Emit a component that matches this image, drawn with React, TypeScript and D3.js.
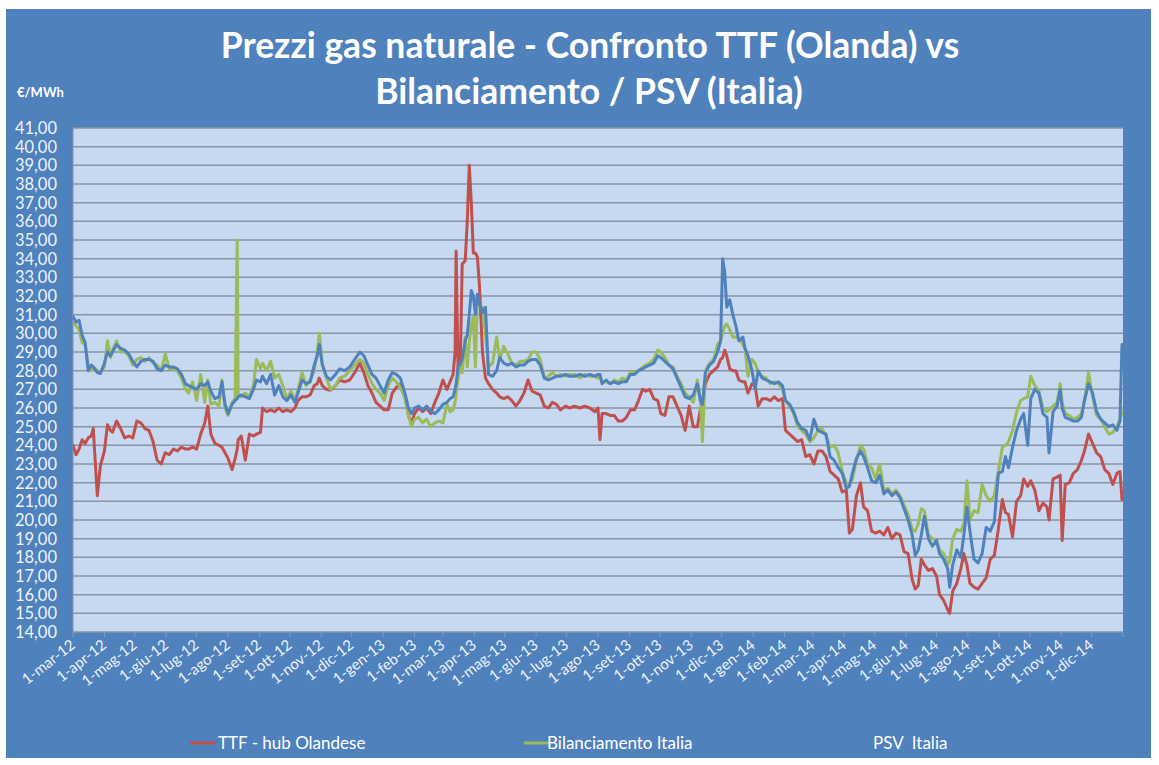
import React from 'react';
import * as d3 from 'd3';

// ---------- DATA ----------
const startDate = new Date(2012, 2, 1); // 1-mar-12
const endDate = new Date(2015, 0, 1);
// days since 1-mar-12
const days = [0,3,6,9,12,15,18,20,24,27,31,34,37,39,43,47,51,55,59,63,67,71,75,79,83,87,91,95,99,103,107,111,114,118,122,126,130,133,136,140,144,147,150,153,157,160,162,163,166,170,174,178,181,185,187,191,195,199,203,207,211,215,219,222,226,230,234,238,241,243,246,250,254,259,263,268,273,278,283,287,291,295,299,303,307,311,315,319,323,327,331,334,337,341,345,349,353,357,361,365,369,372,375,377,378,380,382,384,387,389,391,393,395,397,399,401,404,407,410,414,418,421,425,429,433,437,441,445,449,453,457,461,465,469,473,477,481,486,490,495,500,505,510,515,518,520,522,526,530,534,538,542,546,550,554,558,562,565,569,573,577,580,584,588,592,596,600,604,608,612,616,619,621,624,628,632,636,639,641,643,645,648,651,654,657,661,663,666,670,673,676,680,684,688,692,696,700,703,707,711,715,719,723,727,731,735,739,743,747,751,755,759,763,766,769,773,777,780,784,788,792,796,800,804,808,812,816,820,824,828,831,834,837,840,844,848,852,855,859,863,865,868,872,876,879,882,885,889,893,897,901,905,909,913,917,920,923,927,931,935,938,942,945,949,953,957,961,963,967,971,974,976,979,983,987,991,995,998,1002,1006,1010,1014,1018,1022,1026,1030,1033,1035];

const ttf = [24.0,23.5,23.8,24.3,24.1,24.4,24.5,24.9,21.3,22.9,23.7,25.1,24.8,24.7,25.3,24.9,24.4,24.5,24.4,25.3,25.2,24.9,24.8,24.2,23.2,23.0,23.6,23.5,23.8,23.7,23.9,23.8,23.8,23.9,23.8,24.6,25.2,26.1,24.6,24.1,24.0,23.9,23.6,23.3,22.7,23.3,23.8,24.3,24.5,23.2,24.6,24.5,24.6,24.7,26.0,25.8,25.9,25.8,26.0,25.8,25.9,25.8,26.0,26.4,26.6,26.6,26.7,27.2,27.3,27.6,27.2,27.0,26.95,27.2,27.5,27.4,27.5,27.9,28.4,27.9,27.2,26.8,26.3,26.1,25.9,25.9,26.8,27.1,27.3,26.8,25.6,25.2,25.7,26.0,25.8,26.0,25.7,26.3,26.8,27.5,27.0,27.4,27.8,29.0,34.4,27.8,28.0,33.7,33.9,36.0,39.0,37.0,34.3,34.3,34.1,32.6,29.0,27.6,27.3,27.0,26.8,26.6,26.5,26.6,26.4,26.1,26.4,26.8,27.5,26.9,26.8,26.7,26.1,26.0,26.3,26.2,25.9,26.1,26.0,26.1,26.0,26.1,26.0,25.8,26.0,24.3,25.7,25.7,25.6,25.6,25.3,25.3,25.5,25.9,25.9,26.4,27.0,26.9,27.0,26.5,26.4,25.7,25.6,26.6,26.6,26.1,25.6,24.8,26.1,25.0,25.0,25.9,26.1,27.3,27.8,28.0,28.2,28.6,28.7,29.1,28.8,28.1,28.0,28.0,27.5,27.4,27.4,26.8,27.3,27.2,26.1,26.5,26.5,26.4,26.6,26.4,26.5,24.8,24.6,24.4,24.2,24.3,23.4,23.5,23.0,23.7,23.7,23.4,22.6,22.4,22.2,21.5,21.6,19.3,19.5,21.3,22.0,20.7,20.5,19.4,19.3,19.4,19.2,19.6,19.0,19.3,19.2,18.3,18.2,16.8,16.3,16.5,17.9,17.6,17.3,17.4,17.0,16.0,15.7,15.2,15.0,16.2,16.6,17.4,18.2,17.6,16.6,16.4,16.3,16.6,16.9,17.9,18.1,19.5,21.1,20.4,20.3,19.1,21.0,21.3,22.2,21.8,22.1,21.6,20.5,20.9,20.7,20.0,22.2,22.3,22.4,18.9,21.9,22.0,22.5,22.7,23.2,23.7,24.6,24.1,23.6,23.4,22.7,22.5,21.9,22.5,22.6,21.1];

const bilanciamento = [30.6,30.4,30.2,29.5,29.4,28.3,28.0,28.2,28.0,27.9,28.2,29.6,28.7,29.1,29.6,29.0,29.0,28.8,28.3,28.6,28.7,28.5,28.7,28.4,28.3,28.0,28.9,28.1,28.1,28.0,27.6,27.0,26.8,27.4,26.4,27.8,26.3,27.5,26.2,26.3,26.1,27.5,26.0,25.6,26.3,26.5,35.0,26.7,26.6,26.8,26.6,27.2,28.6,28.1,28.4,28.0,28.5,27.6,27.8,27.2,26.5,26.9,26.4,27.0,27.9,27.2,27.5,28.0,29.0,30.0,28.4,27.6,27.0,27.2,27.6,27.7,28.0,28.3,28.6,28.4,27.8,27.3,27.0,26.8,26.4,27.2,27.6,27.4,27.1,26.6,25.6,25.0,25.4,25.5,25.2,25.4,25.0,25.2,25.3,25.2,26.2,25.8,25.9,26.3,26.8,27.6,28.2,27.9,29.8,28.2,29.5,30.5,30.9,28.2,32.0,31.5,31.4,30.0,28.2,28.4,29.8,28.6,29.3,28.9,28.4,28.3,28.5,28.5,28.6,29.0,29.0,28.6,27.6,27.7,27.9,27.7,27.8,27.7,27.8,27.8,27.6,27.8,27.7,27.7,27.6,27.7,27.4,27.4,27.3,27.5,27.4,27.6,27.5,27.9,27.9,28.0,28.2,28.3,28.4,28.6,29.1,29.0,28.7,28.3,28.2,27.7,27.3,26.8,26.6,26.3,27.5,26.5,24.2,28.0,28.4,28.6,29.4,29.6,30.0,30.4,30.5,30.2,29.8,29.8,29.7,29.4,29.2,27.7,28.6,28.4,27.9,27.7,27.6,27.3,27.4,27.3,27.0,26.4,26.1,25.7,25.0,24.8,24.6,24.2,24.4,24.8,24.9,24.5,23.9,24.0,23.6,22.6,22.0,21.9,22.2,23.2,24.0,23.8,23.0,22.8,22.2,23.0,21.6,21.7,21.4,21.6,21.3,20.8,20.3,19.5,19.4,19.8,20.6,20.5,19.2,19.0,18.9,18.4,18.2,17.6,17.8,19.0,19.5,19.4,19.8,22.1,20.0,20.5,20.4,21.9,21.3,21.0,21.3,22.6,23.9,24.0,24.2,24.8,25.8,26.4,26.5,26.6,27.7,27.2,26.9,26.0,25.8,25.9,26.1,26.3,27.3,26.3,25.7,25.6,25.4,25.5,25.7,26.4,27.9,26.6,25.6,25.4,25.0,24.6,24.7,25.0,25.4,25.8];

const psv = [30.9,30.6,30.7,29.9,29.5,28.0,28.3,28.2,27.9,27.85,28.4,29.0,28.8,29.0,29.4,29.2,29.1,28.9,28.5,28.2,28.5,28.6,28.6,28.5,28.1,28.0,28.3,28.2,28.2,28.1,27.8,27.3,27.2,27.1,27.0,27.3,27.2,27.4,26.9,26.5,26.6,27.4,26.2,25.7,26.2,26.4,26.5,26.6,26.7,26.6,26.5,27.0,27.5,27.4,27.7,27.3,27.8,26.7,27.2,26.6,26.4,26.7,26.3,26.8,27.5,27.3,27.4,28.3,28.8,29.4,28.3,27.7,27.5,27.8,28.1,28.0,28.2,28.6,29.0,28.8,28.3,27.8,27.6,27.2,26.8,27.5,27.9,27.8,27.6,26.9,26.0,25.7,26.0,26.1,25.9,26.1,25.8,25.7,25.9,26.2,26.3,26.5,26.6,27.0,27.3,28.2,28.4,28.6,29.6,29.9,31.0,32.3,32.0,31.0,32.1,31.6,31.1,31.4,27.8,27.7,28.0,28.7,28.4,28.3,28.4,28.2,28.3,28.3,28.5,28.6,28.6,28.3,27.6,27.5,27.6,27.7,27.7,27.8,27.7,27.7,27.8,27.7,27.8,27.7,27.8,27.8,27.3,27.5,27.3,27.4,27.3,27.4,27.4,27.8,27.8,28.0,28.1,28.2,28.3,28.4,28.8,28.7,28.5,28.3,28.1,27.6,27.1,26.6,26.5,26.7,27.3,26.4,26.2,27.9,28.3,28.5,29.0,29.6,34.0,33.3,31.4,31.8,31.0,30.4,29.6,29.8,29.2,28.8,28.0,27.0,28.0,27.6,27.5,27.4,27.3,27.4,27.2,26.4,26.2,25.8,25.2,24.9,24.8,24.3,25.4,24.8,24.7,24.6,23.4,23.2,22.8,22.5,21.7,21.8,22.5,23.3,23.7,23.4,22.8,22.1,22.0,22.4,21.4,21.6,21.3,21.5,21.2,20.6,20.0,19.2,18.1,18.4,19.2,20.2,19.0,18.6,18.9,18.2,17.9,17.4,16.4,17.6,18.4,18.0,19.2,20.7,19.4,17.9,17.7,18.2,19.6,19.4,19.9,22.5,22.6,23.4,22.8,23.9,24.8,25.4,25.7,24.0,26.5,27.0,26.8,25.7,25.5,23.6,25.8,26.1,27.0,26.0,25.5,25.4,25.3,25.3,25.5,26.4,27.3,26.8,25.8,25.4,25.2,25.0,25.1,24.8,25.3,29.4];

const seriesNames = ['TTF - hub Olandese', 'Bilanciamento Italia', 'PSV  Italia'];
const seriesColors = ['#C0504D', '#9BBB59', '#4F81BD'];
const monthAbbr = ['gen', 'feb', 'mar', 'apr', 'mag', 'giu', 'lug', 'ago', 'set', 'ott', 'nov', 'dic'];
const yMin = 14;
const yMax = 41;

// ---------- LAYOUT ----------
const W = 1159;
const H = 765;
const plot = { left: 73, right: 1123, top: 128, bottom: 632 };

export default function App() {
  const x = d3.scaleTime().domain([startDate, endDate]).range([plot.left, plot.right]);
  const y = d3.scaleLinear().domain([yMin, yMax]).range([plot.bottom, plot.top]);
  const dates = days.map((d) => d3.timeDay.offset(startDate, d));
  const allSeries = [ttf, bilanciamento, psv];
  const line = d3
    .line<number>()
    .x((_, i) => x(dates[i]))
    .y((v) => y(v));
  const yTicks = d3.range(yMin, yMax + 1);
  const monthTicks = d3.timeMonth.range(startDate, d3.timeDay.offset(endDate, 1));
  const labelTicks = monthTicks.filter((d) => d < endDate);
  const fmt = (d: Date) => `1-${monthAbbr[d.getMonth()]}-${String(d.getFullYear()).slice(2)}`;
  const font = 'Lato, "Open Sans", sans-serif';

  return (
    <svg width={W} height={H} style={{ position: 'absolute', left: 0, top: 0 }} fontFamily={font}>
      <rect x={0} y={0} width={W} height={H} fill="#ffffff" />
      <rect x={6} y={9} width={1145} height={749} fill="#4F81BD" />
      <rect x={plot.left} y={plot.top} width={plot.right - plot.left} height={plot.bottom - plot.top} fill="#C6D9F1" />
      {yTicks.map((t) => (
        <line key={t} x1={plot.left} x2={plot.right} y1={y(t)} y2={y(t)} stroke="#8A93A3" strokeWidth={1.5} />
      ))}
      <line x1={plot.left} x2={plot.left} y1={plot.top} y2={plot.bottom} stroke="#8A93A3" strokeWidth={1} />
      {monthTicks.map((d, i) => (
        <line key={i} x1={x(d)} x2={x(d)} y1={plot.bottom} y2={plot.bottom + 5} stroke="#7A9CC8" strokeWidth={1} />
      ))}
      {yTicks.map((t) => (
        <text key={t} x={57} y={y(t)} dy="0.36em" textAnchor="end" fill="#EEF2F8" fontSize={16.5}>
          {t.toFixed(2).replace('.', ',')}
        </text>
      ))}
      {labelTicks.map((d, i) => (
        <text
          key={i}
          transform={`translate(${x(d) + 3},${plot.bottom + 15}) rotate(-38)`}
          textAnchor="end"
          fill="#EEF2F8"
          fontSize={15}
        >
          {fmt(d)}
        </text>
      ))}
      <g clipPath="url(#clip)">
        <clipPath id="clip">
          <rect x={plot.left} y={plot.top - 5} width={plot.right - plot.left + 2} height={plot.bottom - plot.top + 5} />
        </clipPath>
        {allSeries.map((s, k) => (
          <path
            key={k}
            d={line(s) || ''}
            fill="none"
            stroke={seriesColors[k]}
            strokeWidth={3}
            strokeLinejoin="round"
            strokeLinecap="round"
          />
        ))}
      </g>
      <text x={590} y={58} textAnchor="middle" fill="#ffffff" fontSize={35.5} fontWeight="bold">
        Prezzi gas naturale - Confronto TTF (Olanda) vs
      </text>
      <text x={589} y={104} textAnchor="middle" fill="#ffffff" fontSize={35.5} fontWeight="bold">
        Bilanciamento / PSV (Italia)
      </text>
      <text x={17} y={97} fill="#ffffff" fontSize={13} fontWeight="bold">
        €/MWh
      </text>
      {seriesNames.map((n, k) => {
        const lx = [190, 524, 840][k];
        const tx = [218, 547, 873][k];
        return (
          <g key={k}>
            <line x1={lx} x2={lx + 26} y1={743} y2={743} stroke={seriesColors[k]} strokeWidth={3} />
            <text x={tx} y={743} dy="0.35em" fill="#ffffff" fontSize={17} style={{ whiteSpace: 'pre' }}>
              {n}
            </text>
          </g>
        );
      })}
    </svg>
  );
}
